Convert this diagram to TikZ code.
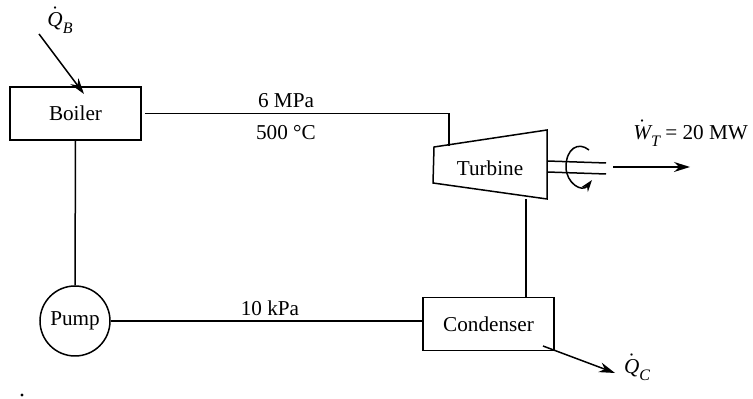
\documentclass[tikz,border=0pt]{standalone}
\usepackage{fontspec}
\setmainfont{Liberation Serif}
\usepackage{amsmath}
\usetikzlibrary{positioning,arrows.meta}
\newcommand{\rateof}[2]{$\dot{\mbox{\itshape #1}}$\raisebox{-3.5pt}{\footnotesize\itshape #2}}
\tikzset{
  block/.style={rectangle, draw, line width=0.75pt, minimum width=65.5pt, minimum height=26.5pt, align=center},
  pipe/.style={draw, line width=0.75pt},
  flow/.style={draw, line width=0.75pt, -{Stealth[length=8pt,width=5pt]}},
  every node/.style={font=\fontsize{10.6}{12.7}\selectfont}
}
\begin{document}
\begin{tikzpicture}[x=0.5pt,y=0.5pt,line width=0.75pt]
\useasboundingbox (0,0) rectangle (753,399);

% Nodes
\node [block] (boiler) at (75.5,285.5) {Boiler};
\node [block] (condenser) at (488.5,75) {Condenser};
\node [circle, draw, line width=0.75pt, minimum size=35pt, inner sep=0pt] (pump) at (75,78) {Pump};
\node (turbine) at (490,231) {Turbine};
\coordinate (tla) at (434,252);
\coordinate (tra) at (547,269);
\coordinate (trb) at (547,200);
\coordinate (tlb) at (433,216);
\draw (tla) -- (tra) -- (trb) -- (tlb) -- cycle;

\node (pressa) at (286,298) {6 MPa};
\node (tempa) at (286,266) {500 \textdegree C};
\node (pressb) at (270,91) {10 kPa};
\node (qb) at (60,379) {\rateof{Q}{B}};
\node (qc) at (637,32) {\rateof{Q}{C}};
\node [anchor=west] (wt) at (626,266) {\rateof{W}{T} = 20 MW};
\node [circle, fill=black, inner sep=0.6pt] (spot) at (22,4) {};

% Arrows
\coordinate (turbinein) at (449,253);
\coordinate (turbineout) at (526,200);
\coordinate (qbstart) at (39,365);
\coordinate (qbend) at (84,305);
\coordinate (qcstart) at (543,53);
\coordinate (qcend) at (615,26);
\coordinate (worka) at (547,238);
\coordinate (workb) at (606,236);
\coordinate (workc) at (547,227);
\coordinate (workd) at (606,225);
\coordinate (worke) at (613,232);
\coordinate (workf) at (690,232);
\draw [pipe] (boiler.east) ++(3,0) -| (turbinein);
\draw [pipe] (boiler.south) -- (pump.north);
\draw [pipe] (pump.east) -- (pump.east -| condenser.west);
\draw [pipe] (turbineout) -- (condenser.north -| turbineout);
\draw [flow] (qbstart) -- (qbend);
\draw [flow] (qcstart) -- (qcend);
\draw [flow] (worke) -- (workf);
\draw [pipe] (worka) -- (workb);
\draw [pipe] (workc) -- (workd);
\draw [line width=0.75pt, -{Stealth[length=6pt,width=4pt]}] (589,249) .. controls (578,258) and (566,250) .. (566,232)
  .. controls (566,216) and (582,206) .. (592,219);
\end{tikzpicture}
\end{document}
